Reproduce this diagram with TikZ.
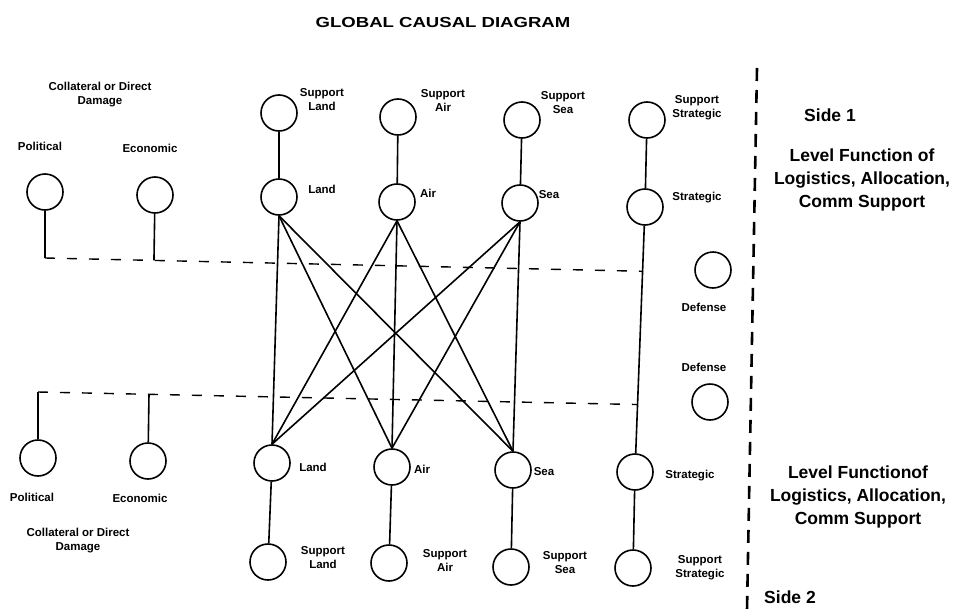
\documentclass[tikz,border=0pt]{standalone}
\usepackage{fontspec}
\setmainfont{Liberation Sans}
\usetikzlibrary{calc}

\tikzset{
  unit/.style={circle, draw, line width=1.6pt, minimum size=36pt, inner sep=0pt},
  lbl/.style={font=\bfseries\fontsize{11.5}{14}\selectfont, align=center, inner sep=0pt},
  biglbl/.style={font=\bfseries\fontsize{17.5}{23}\selectfont, align=center, inner sep=0pt},
  link/.style={line width=1.6pt},
  damage/.style={line width=1.4pt, dash pattern=on 10pt off 12pt},
  border/.style={line width=2.6pt, dash pattern=on 13pt off 9pt}
}

\begin{document}
\begin{tikzpicture}[x=1pt, y=-1pt]
    \useasboundingbox (0,0) rectangle (965,610);

    % title
    \node[inner sep=0pt] (title) at (443,23)
      {\bfseries\fontsize{14.5}{16}\selectfont\scalebox{1.28}[1]{GLOBAL CAUSAL DIAGRAM}};

    % side 1 circles
    \node[unit] (pol1)   at (45,192) {};
    \node[unit] (eco1)   at (155,195) {};
    \node[unit] (supL1)  at (279,113) {};
    \node[unit] (land1)  at (279,197) {};
    \node[unit] (supA1)  at (398,117) {};
    \node[unit] (air1)   at (397,202) {};
    \node[unit] (supS1)  at (522,120) {};
    \node[unit] (sea1)   at (520,203) {};
    \node[unit] (supT1)  at (647,120) {};
    \node[unit] (strat1) at (645,207) {};
    \node[unit] (def1)   at (713,270) {};

    % side 2 circles
    \node[unit] (pol2)   at (38,458) {};
    \node[unit] (eco2)   at (148,461) {};
    \node[unit] (land2)  at (272,463) {};
    \node[unit] (supL2)  at (268,562) {};
    \node[unit] (air2)   at (392,467) {};
    \node[unit] (supA2)  at (389,563) {};
    \node[unit] (sea2)   at (513,470) {};
    \node[unit] (supS2)  at (511,567) {};
    \node[unit] (strat2) at (635,472) {};
    \node[unit] (supT2)  at (633,568) {};
    \node[unit] (def2)   at (710,402) {};

    % side 1 labels
    \node[lbl] (damTxt1) at (100,95) {Collateral or Direct\\Damage};
    \node[lbl] (polTxt1) at (40,146) {Political};
    \node[lbl] (ecoTxt1) at (150,148) {Economic};
    \node[lbl] (supLTxt1) at (322,100) {Support\\Land};
    \node[lbl] (landTxt1) at (322,189) {Land};
    \node[lbl] (supATxt1) at (443,100) {Support\\Air};
    \node[lbl] (airTxt1)  at (428,193) {Air};
    \node[lbl] (supSTxt1) at (563,103) {Support\\Sea};
    \node[lbl] (seaTxt1)  at (549,195) {Sea};
    \node[lbl] (supTTxt1) at (697,108) {Support\\Strategic};
    \node[lbl] (stratTxt1) at (697,198) {Strategic};
    \node[lbl] (defTxt1)  at (704,307) {Defense};

    % side 2 labels
    \node[lbl] (defTxt2)  at (704,367) {Defense};
    \node[lbl] (landTxt2) at (313,467) {Land};
    \node[lbl] (airTxt2)  at (422,469) {Air};
    \node[lbl] (seaTxt2)  at (544,472) {Sea};
    \node[lbl] (stratTxt2) at (690,476) {Strategic};
    \node[lbl] (supLTxt2) at (323,558) {Support\\Land};
    \node[lbl] (supATxt2) at (445,560) {Support\\Air};
    \node[lbl] (supSTxt2) at (565,563) {Support\\Sea};
    \node[lbl] (supTTxt2) at (700,568) {Support\\Strategic};
    \node[lbl] (polTxt2) at (32,497) {Political};
    \node[lbl] (ecoTxt2) at (140,498) {Economic};
    \node[lbl] (damTxt2) at (78,541) {Collateral or Direct\\Damage};

    % right hand text
    \node[biglbl] (side1) at (830,115) {Side 1};
    \node[biglbl] (level1) at (862,180) {Level Function of\\Logistics, Allocation,\\Comm Support};
    \node[biglbl] (level2) at (858,497) {Level Functionof\\Logistics, Allocation,\\Comm Support};
    \node[biglbl] (side2) at (790,597) {Side 2};

    % separator between the sides
    \draw[border] (757,68) -- (747,610);

    % support lines
    \foreach \a/\b in {supL1/land1, supA1/air1, supS1/sea1, supT1/strat1}
      \draw[link] (\a) -- (\b);
    \foreach \a/\b in {land2/supL2, air2/supA2, sea2/supS2, strat2/supT2}
      \draw[link] (\a) -- (\b);
    \draw[link] (strat1) -- (strat2);

    % cross links between the sides
    \foreach \a in {land1, air1, sea1}
      \foreach \b in {land2, air2, sea2}
        \draw[link] (\a.south) -- (\b.north);

    % damage lines
    \coordinate (dmgL1) at (45,258);
    \coordinate (dmgR1) at ($(strat1.south)!0.2!(strat2.north)$);
    \coordinate (dmgL2) at (38,392);
    \coordinate (dmgR2) at ($(strat1.south)!0.786!(strat2.north)$);
    \draw[link] (pol1) -- (dmgL1);
    \draw[link] (eco1) -- ($(dmgL1)!(eco1.south)!(dmgR1)$);
    \draw[damage] (dmgL1) -- (dmgR1);
    \draw[link] (pol2) -- (dmgL2);
    \draw[link] (eco2) -- ($(dmgL2)!(eco2.north)!(dmgR2)$);
    \draw[damage] (dmgL2) -- (dmgR2);
\end{tikzpicture}
\end{document}
